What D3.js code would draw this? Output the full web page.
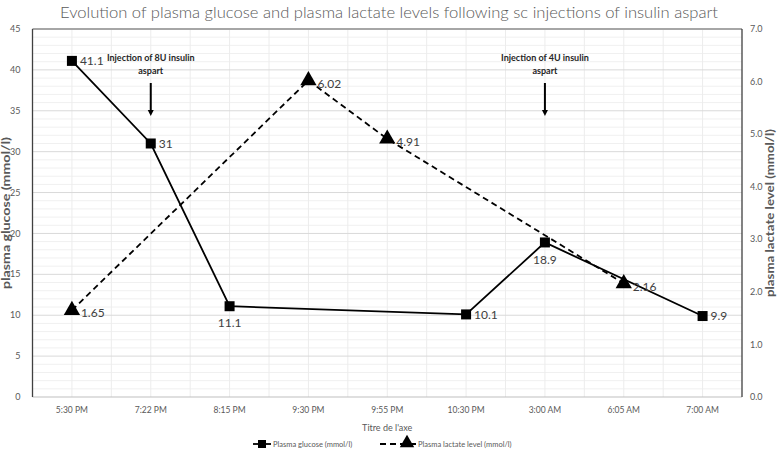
<!DOCTYPE html>
<html>
<head>
<meta charset="utf-8">
<script src="https://cdn.jsdelivr.net/npm/d3@7"></script>
<style>
  body { margin: 0; background: #fff; }
  svg { font-family: Lato, "Open Sans", sans-serif; }
</style>
</head>
<body>
<div id="chart"></div>
<script>
const categories = ['5:30 PM', '7:22 PM', '8:15 PM', '9:30 PM', '9:55 PM', '10:30 PM', '3:00 AM', '6:05 AM', '7:00 AM']
const glucose = [41.1, 31, 11.1, null, null, 10.1, 18.9, null, 9.9]
const lactate = [1.65, null, null, 6.02, 4.91, null, null, 2.16, null]
const glucoseTicks = [0, 5, 10, 15, 20, 25, 30, 35, 40, 45]
const lactateTicks = [0, 1, 2, 3, 4, 5, 6, 7]
// label placement per point: 'r' right, 'b' below
const glucosePos = ['r', 'r', 'b', null, null, 'r', 'b', null, 'r']
const injections = [
  { cat: '7:22 PM', lines: ['Injection of 8U insulin', 'aspart'] },
  { cat: '3:00 AM', lines: ['Injection of 4U insulin', 'aspart'] }
]

const width = 778
const height = 451
const margin = { top: 29, right: 36, bottom: 54, left: 32.5 }
const plotW = width - margin.left - margin.right
const plotH = height - margin.top - margin.bottom

const svg = d3.select('#chart').append('svg').attr('width', width).attr('height', height)
const g = svg.append('g').attr('transform', `translate(${margin.left},${margin.top})`)

const x = d3.scaleBand().domain(categories).range([0, plotW])
const bw = x.bandwidth()
const cx = c => x(c) + bw / 2
const yL = d3.scaleLinear().domain([0, 45]).range([plotH, 0])
const yR = d3.scaleLinear().domain([0, 7]).range([plotH, 0])

// minor horizontal gridlines
g.append('g').selectAll('line')
  .data(d3.range(0, 46, 1).filter(v => v % 5 !== 0))
  .enter().append('line')
  .attr('x1', 0).attr('x2', plotW)
  .attr('y1', d => yL(d)).attr('y2', d => yL(d))
  .attr('stroke', '#f0f0f0').attr('stroke-width', 1)

// vertical gridlines at centers and boundaries
const vLines = []
categories.forEach(c => { vLines.push(x(c)); vLines.push(cx(c)) })
g.append('g').selectAll('line')
  .data(vLines.filter(v => v > 0))
  .enter().append('line')
  .attr('x1', d => d).attr('x2', d => d)
  .attr('y1', 0).attr('y2', plotH)
  .attr('stroke', '#ececec').attr('stroke-width', 1)

// major horizontal gridlines
g.append('g').selectAll('line')
  .data(glucoseTicks.filter(v => v > 0 && v < 45))
  .enter().append('line')
  .attr('x1', 0).attr('x2', plotW)
  .attr('y1', d => yL(d)).attr('y2', d => yL(d))
  .attr('stroke', '#d9d9d9').attr('stroke-width', 1)

// frame
g.append('line').attr('x1', 0).attr('x2', plotW).attr('y1', 0).attr('y2', 0)
  .attr('stroke', '#a6a6a6').attr('stroke-width', 2)
g.append('line').attr('x1', 0).attr('x2', plotW).attr('y1', plotH).attr('y2', plotH)
  .attr('stroke', '#bfbfbf').attr('stroke-width', 1)
g.append('line').attr('x1', 0).attr('x2', 0).attr('y1', 0).attr('y2', plotH)
  .attr('stroke', '#404040').attr('stroke-width', 1.3)
g.append('line').attr('x1', plotW).attr('x2', plotW).attr('y1', 0).attr('y2', plotH)
  .attr('stroke', '#404040').attr('stroke-width', 1.3)

// axis tick labels
g.append('g').selectAll('text')
  .data(glucoseTicks).enter().append('text')
  .attr('x', -12).attr('y', d => yL(d)).attr('dy', '0.35em')
  .attr('text-anchor', 'end').attr('font-size', 9).attr('fill', '#595959')
  .text(d => d)

g.append('g').selectAll('text')
  .data(lactateTicks).enter().append('text')
  .attr('x', plotW + 8).attr('y', d => yR(d)).attr('dy', '0.35em')
  .attr('text-anchor', 'start').attr('font-size', 9).attr('fill', '#595959')
  .text(d => d3.format('.1f')(d))

g.append('g').selectAll('text')
  .data(categories).enter().append('text')
  .attr('x', d => cx(d)).attr('y', plotH + 16)
  .attr('text-anchor', 'middle').attr('font-size', 8.5).attr('fill', '#595959')
  .text(d => d)

// titles
svg.append('text').attr('x', width / 2).attr('y', 18)
  .attr('text-anchor', 'middle').attr('font-size', 16.5).attr('fill', '#595959')
  .attr('font-weight', 300)
  .attr('textLength', 658).attr('lengthAdjust', 'spacingAndGlyphs')
  .text('Evolution of plasma glucose and plasma lactate levels following sc injections of insulin aspart')

svg.append('text').attr('x', margin.left + plotW / 2).attr('y', 431)
  .attr('text-anchor', 'middle').attr('font-size', 9).attr('fill', '#595959')
  .text("Titre de l'axe")

svg.append('text')
  .attr('transform', `translate(10,${margin.top + plotH / 2}) rotate(-90)`)
  .attr('text-anchor', 'middle').attr('font-size', 10.5).attr('font-weight', 'bold').attr('fill', '#595959')
  .attr('textLength', 152).attr('lengthAdjust', 'spacingAndGlyphs')
  .text('plasma glucose (mmol/l)')

svg.append('text')
  .attr('transform', `translate(774,${margin.top + plotH / 2}) rotate(-90)`)
  .attr('text-anchor', 'middle').attr('font-size', 10.5).attr('font-weight', 'bold').attr('fill', '#595959')
  .attr('textLength', 168).attr('lengthAdjust', 'spacingAndGlyphs')
  .text('plasma lactate level (mmol/l)')

// series lines
const gData = categories.map((c, i) => ({ c, v: glucose[i], pos: glucosePos[i] })).filter(d => d.v !== null)
const lData = categories.map((c, i) => ({ c, v: lactate[i] })).filter(d => d.v !== null)

g.append('path').datum(lData)
  .attr('fill', 'none').attr('stroke', '#000').attr('stroke-width', 1.8)
  .attr('stroke-dasharray', '6,4')
  .attr('d', d3.line().x(d => cx(d.c)).y(d => yR(d.v)))

g.append('path').datum(gData)
  .attr('fill', 'none').attr('stroke', '#000').attr('stroke-width', 1.8)
  .attr('d', d3.line().x(d => cx(d.c)).y(d => yL(d.v)))

// markers
const tri = d3.symbol().type(d3.symbolTriangle).size(115)
g.append('g').selectAll('path')
  .data(lData).enter().append('path')
  .attr('d', tri)
  .attr('transform', d => `translate(${cx(d.c)},${yR(d.v)})`)
  .attr('fill', '#000')

g.append('g').selectAll('rect')
  .data(gData).enter().append('rect')
  .attr('x', d => cx(d.c) - 5).attr('y', d => yL(d.v) - 5)
  .attr('width', 10).attr('height', 10)
  .attr('fill', '#000')

// data labels
g.append('g').selectAll('text')
  .data(gData).enter().append('text')
  .attr('x', d => d.pos === 'r' ? cx(d.c) + 8 : cx(d.c))
  .attr('y', d => d.pos === 'r' ? yL(d.v) : yL(d.v) + 17)
  .attr('dy', '0.35em')
  .attr('text-anchor', d => d.pos === 'r' ? 'start' : 'middle')
  .attr('font-size', 12).attr('fill', '#404040')
  .text(d => d.v)

g.append('g').selectAll('text')
  .data(lData).enter().append('text')
  .attr('x', d => cx(d.c) + 9).attr('y', d => yR(d.v) + 3)
  .attr('dy', '0.35em')
  .attr('font-size', 12).attr('fill', '#404040')
  .text(d => d3.format('.2f')(d.v))

// injection annotations
const ann = g.append('g').selectAll('g')
  .data(injections).enter().append('g')
  .attr('transform', d => `translate(${cx(d.cat)},0)`)
ann.each(function (d) {
  const a = d3.select(this)
  d.lines.forEach((t, i) => {
    a.append('text').attr('x', 0).attr('y', 32 + i * 13)
      .attr('text-anchor', 'middle').attr('font-size', 9).attr('font-weight', 'bold').attr('fill', '#262626')
      .text(t)
  })
  a.append('line').attr('x1', 0).attr('x2', 0).attr('y1', 54).attr('y2', 82)
    .attr('stroke', '#000').attr('stroke-width', 2)
  a.append('path').attr('d', 'M-3,81 L3,81 L0,87 Z').attr('fill', '#000')
})

// legend
const leg = svg.append('g').attr('transform', 'translate(0,444)')
leg.append('line').attr('x1', 253).attr('x2', 271).attr('y1', 0).attr('y2', 0)
  .attr('stroke', '#000').attr('stroke-width', 1.8)
leg.append('rect').attr('x', 258).attr('y', -4).attr('width', 8).attr('height', 8).attr('fill', '#000')
leg.append('text').attr('x', 273).attr('y', 0).attr('dy', '0.35em')
  .attr('font-size', 7.5).attr('fill', '#595959').text('Plasma glucose (mmol/l)')
leg.append('line').attr('x1', 380).attr('x2', 416).attr('y1', 0).attr('y2', 0)
  .attr('stroke', '#000').attr('stroke-width', 1.8).attr('stroke-dasharray', '6,4')
leg.append('path').attr('d', d3.symbol().type(d3.symbolTriangle).size(90))
  .attr('transform', 'translate(407,-1)').attr('fill', '#000')
leg.append('text').attr('x', 418).attr('y', 0).attr('dy', '0.35em')
  .attr('font-size', 7.5).attr('fill', '#595959').text('Plasma lactate level (mmol/l)')
</script>
</body>
</html>
